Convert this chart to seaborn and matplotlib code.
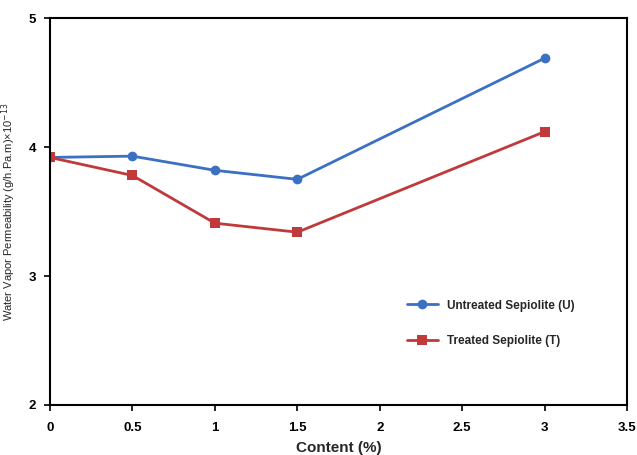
import matplotlib
matplotlib.use("Agg")
import matplotlib.pyplot as plt
import seaborn as sns
import pandas as pd

# ── Data
content = [0, 0.5, 1, 1.5, 3]
untreated = [3.92, 3.93, 3.82, 3.75, 4.69]
treated = [3.92, 3.78, 3.41, 3.34, 4.12]
labels = ["Untreated Sepiolite (U)", "Treated Sepiolite (T)"]

df = pd.concat([
    pd.DataFrame({"content": content, "wvp": untreated, "series": labels[0]}),
    pd.DataFrame({"content": content, "wvp": treated, "series": labels[1]}),
])

sns.set_theme(style="white")
plt.rcParams["font.family"] = ["Liberation Sans", "DejaVu Sans"]

fig = plt.figure(figsize=(6.37, 4.55), dpi=100)
ax = fig.add_axes([0.0785, 0.110, 0.906, 0.850])

sns.lineplot(data=df, x="content", y="wvp", hue="series", style="series",
             markers={labels[0]: "o", labels[1]: "s"}, dashes=False,
             palette={labels[0]: "#3b70c2", labels[1]: "#c0393b"},
             linewidth=2, markersize=7, markeredgewidth=0, ax=ax)

ax.set_xlim(0, 3.5)
ax.set_ylim(2, 5)
ax.set_xticks([0, 0.5, 1, 1.5, 2, 2.5, 3, 3.5])
ax.set_xticklabels(["0", "0.5", "1", "1.5", "2", "2.5", "3", "3.5"])
ax.set_yticks([2, 3, 4, 5])
ax.tick_params(axis="both", direction="out", length=4, width=1.2, labelsize=9.5,
               colors="black", bottom=True, left=True)
ax.tick_params(axis="x", pad=8)
ax.tick_params(axis="y", pad=6)
for t in ax.get_xticklabels() + ax.get_yticklabels():
    t.set_fontweight("bold")
for s in ax.spines.values():
    s.set_color("black")
    s.set_linewidth(1.5)

ax.set_xlabel("Content (%)", fontsize=11, fontweight="bold", labelpad=5)
ax.set_ylabel(r"Water Vapor Permeability (g/h.Pa.m)×10$^{-13}$", fontsize=8, labelpad=8)

leg = ax.legend(loc="upper left", bbox_to_anchor=(0.60, 0.30), frameon=False,
                fontsize=8.5, labelspacing=2.0, handlelength=2.6)
for t in leg.get_texts():
    t.set_fontweight("bold")

plt.savefig("out.png", dpi=100)
plt.close()
